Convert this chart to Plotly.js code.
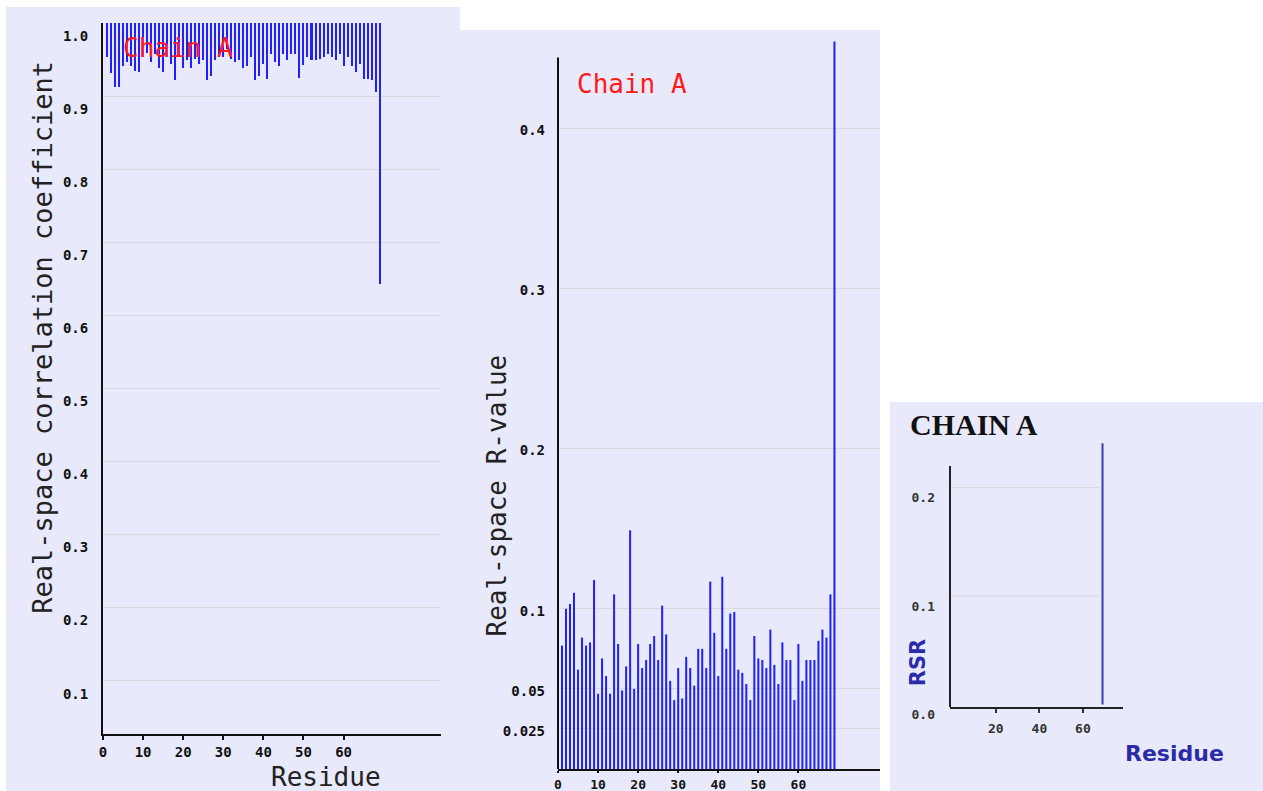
<!DOCTYPE html>
<html>
<head>
<meta charset="utf-8">
<script src="https://cdn.plot.ly/plotly-3.0.1.min.js"></script>
<style>
  html, body { margin:0; padding:0; background:#ffffff; width:1263px; height:791px; overflow:hidden; }
  .panel { position:absolute; }
</style>
</head>
<body>
<div id="p1" class="panel" style="left:6px;top:7px;width:454px;height:784px;"></div>
<div id="p2" class="panel" style="left:460px;top:30px;width:420px;height:761px;"></div>
<div id="p3" class="panel" style="left:890px;top:402px;width:373px;height:389px;"></div>
<script>
// ---------- DATA ----------
const residues = Array.from({length: 69}, (_, i) => i + 1);

// Real-space correlation coefficient per residue (Chain A)
const rsccValues = [
  0.953, 0.931, 0.913, 0.913, 0.941, 0.947, 0.941, 0.935, 0.933, 0.953,
  0.959, 0.947, 0.958, 0.938, 0.933, 0.953, 0.944, 0.922, 0.953, 0.939,
  0.949, 0.939, 0.951, 0.944, 0.950, 0.922, 0.927, 0.949, 0.958, 0.953,
  0.964, 0.951, 0.947, 0.949, 0.939, 0.941, 0.953, 0.922, 0.927, 0.944,
  0.924, 0.958, 0.947, 0.941, 0.958, 0.949, 0.958, 0.958, 0.925, 0.942,
  0.953, 0.949, 0.950, 0.951, 0.953, 0.958, 0.953, 0.950, 0.958, 0.941,
  0.953, 0.941, 0.933, 0.944, 0.924, 0.924, 0.922, 0.906, 0.643
];

// Real-space R-value per residue (Chain A)
const rsrValues = [
  0.077, 0.100, 0.103, 0.110, 0.062, 0.082, 0.077, 0.079, 0.118, 0.047,
  0.069, 0.058, 0.047, 0.109, 0.078, 0.049, 0.064, 0.149, 0.050, 0.078,
  0.063, 0.068, 0.078, 0.083, 0.068, 0.102, 0.084, 0.055, 0.043, 0.063,
  0.044, 0.070, 0.063, 0.052, 0.075, 0.075, 0.063, 0.117, 0.085, 0.058,
  0.120, 0.075, 0.097, 0.098, 0.062, 0.060, 0.053, 0.043, 0.083, 0.069,
  0.068, 0.063, 0.087, 0.065, 0.053, 0.079, 0.068, 0.068, 0.043, 0.078,
  0.055, 0.068, 0.068, 0.068, 0.080, 0.087, 0.082, 0.109, 0.454
];

// RSR thumbnail (Chain A): only the outlier bar is drawn
const rsrThumbResidues = [69];
const rsrThumbValues = [0.241];

const xTicks1 = [0, 10, 20, 30, 40, 50, 60];
const yTicks1 = [0.1, 0.2, 0.3, 0.4, 0.5, 0.6, 0.7, 0.8, 0.9, 1.0];
const yTickText1 = ['0.1','0.2','0.3','0.4','0.5','0.6','0.7','0.8','0.9','1.0'];
const xTicks2 = [0, 10, 20, 30, 40, 50, 60];
const yTicks2 = [0.025, 0.05, 0.1, 0.2, 0.3, 0.4];
const yTickText2 = ['0.025', '0.05', '0.1', '0.2', '0.3', '0.4'];
const xTicks3 = [20, 40, 60];
const yTicks3 = [0, 0.1, 0.2];
const yTickText3 = ['0.0', '0.1', '0.2'];

// ---------- STYLE ----------
const BG = '#e8e9fa';
const GRID = '#d9d9d9';
const MONO = 'DejaVu Sans Mono, monospace';
const tickFont = {family: MONO, size: 14, color: '#111', weight: 'bold'};
const tickFont2x = {family: MONO, size: 13, color: '#111', weight: 'bold'};
const tickFont3 = {family: MONO, size: 13, color: '#333', weight: 'bold'};
const cfg = {staticPlot: true, displayModeBar: false};

function ann(m, W, H, px, py, text, font, angle) {
  const w = W - m.l - m.r, h = H - m.t - m.b;
  return {xref: 'paper', yref: 'paper', x: (px - m.l) / w, y: 1 - (py - m.t) / h,
    text: text, showarrow: false, xanchor: 'center', yanchor: 'middle',
    textangle: angle || 0, font: font};
}

// ---------- PANEL 1 ----------
(function () {
  const W = 454, H = 784;
  const m = {l: 97.3, r: 19.3, t: 15.7, b: 57};
  const trace = {
    type: 'bar', x: residues, y: rsccValues.map(v => v - 1), base: 1,
    width: 0.5, marker: {color: '#2020ff', line: {width: 0}}, hoverinfo: 'skip'
  };
  const layout = {
    width: W, height: H, margin: m, paper_bgcolor: BG, plot_bgcolor: BG,
    showlegend: false, bargap: 0,
    xaxis: {range: [0, 84.3], tickvals: xTicks1, ticktext: xTicks1.map(String),
      ticks: 'outside', ticklen: 4, tickwidth: 2, tickcolor: '#111',
      showline: true, linecolor: '#111', linewidth: 2, showgrid: false, zeroline: false,
      tickfont: tickFont, fixedrange: true},
    yaxis: {range: [0.027, 1.0], tickvals: yTicks1, ticktext: yTickText1,
      ticks: '', showline: true, linecolor: '#111', linewidth: 2,
      showgrid: true, gridcolor: GRID, gridwidth: 1, zeroline: false,
      tickfont: tickFont, ticklabelstandoff: 10, ticklabelshift: 13, fixedrange: true},
    annotations: [
      ann(m, W, H, 37, 330, 'Real-space correlation coefficient', {family: MONO, size: 27, color: '#222'}, -90),
      ann(m, W, H, 320, 770, 'Residue', {family: MONO, size: 26, color: '#222'}),
      ann(m, W, H, 172, 41, 'Chain A', {family: MONO, size: 26, color: '#ff1a1a'})
    ]
  };
  Plotly.newPlot('p1', [trace], layout, cfg);
})();

// ---------- PANEL 2 ----------
(function () {
  const W = 420, H = 761;
  const m = {l: 97.7, r: 0, t: 9.6, b: 22};
  const trace = {
    type: 'bar', x: residues, y: rsrValues, width: 0.5,
    marker: {color: '#2020ff', line: {width: 0}}, hoverinfo: 'skip'
  };
  const layout = {
    width: W, height: H, margin: m, paper_bgcolor: BG, plot_bgcolor: BG,
    showlegend: false,
    xaxis: {range: [0, 80.37], tickvals: xTicks2, ticktext: xTicks2.map(String),
      ticks: 'outside', ticklen: 2, tickwidth: 2, tickcolor: '#111',
      showline: true, linecolor: '#111', linewidth: 2, showgrid: false, zeroline: false,
      tickfont: tickFont2x, ticklabelstandoff: 0, fixedrange: true},
    yaxis: {range: [0, 0.455], tickvals: yTicks2, ticktext: yTickText2,
      ticks: '', showline: false, showgrid: true, gridcolor: GRID, gridwidth: 1,
      zeroline: false, tickfont: tickFont, ticklabelstandoff: 12, ticklabelshift: 2,
      fixedrange: true},
    shapes: [
      {type: 'line', xref: 'paper', yref: 'y', x0: 0, x1: 0, y0: 0, y1: 0.444,
       line: {color: '#111', width: 2}}
    ],
    annotations: [
      ann(m, W, H, 37, 465, 'Real-space R-value', {family: MONO, size: 26, color: '#222'}, -90),
      ann(m, W, H, 172, 54, 'Chain A', {family: MONO, size: 26, color: '#ff1a1a'})
    ]
  };
  Plotly.newPlot('p2', [trace], layout, cfg);
})();

// ---------- PANEL 3 ----------
(function () {
  const W = 373, H = 389;
  const m = {l: 60, r: 139.7, t: 39.1, b: 84.3};
  const trace = {
    type: 'bar', x: rsrThumbResidues, y: rsrThumbValues, width: 0.9,
    marker: {color: '#3a3aa8', line: {width: 0}}, hoverinfo: 'skip'
  };
  const gridShapes = [0.1, 0.2].map(v => ({type: 'line', xref: 'x', yref: 'y',
    x0: -1.05, x1: 67.7, y0: v, y1: v, line: {color: GRID, width: 1}, layer: 'below'}));
  const layout = {
    width: W, height: H, margin: m, paper_bgcolor: BG, plot_bgcolor: BG,
    showlegend: false,
    xaxis: {range: [-1.05, 78.4], tickvals: xTicks3, ticktext: xTicks3.map(String),
      ticks: 'outside', ticklen: 4, tickwidth: 2, tickcolor: '#333',
      showline: true, linecolor: '#222', linewidth: 2, showgrid: false, zeroline: false,
      tickfont: tickFont3, ticklabelstandoff: 4, fixedrange: true},
    yaxis: {range: [-0.0022, 0.2430], tickvals: yTicks3, ticktext: yTickText3,
      ticks: '', showline: false, showgrid: false, zeroline: false,
      tickfont: tickFont3, ticklabelstandoff: 14, ticklabelshift: 10, fixedrange: true},
    shapes: gridShapes.concat([
      {type: 'line', xref: 'paper', yref: 'y', x0: 0, x1: 0, y0: -0.0022, y1: 0.220,
       line: {color: '#222', width: 2}}
    ]),
    annotations: [
      ann(m, W, H, 84.5, 23, 'CHAIN A', {family: 'Liberation Serif, serif', size: 30, color: '#111', weight: 'bold'}),
      ann(m, W, H, 28, 261, 'RSR', {family: 'DejaVu Sans, sans-serif', size: 21, color: '#2b2ba8', weight: 'bold'}, -90),
      ann(m, W, H, 285, 351, 'Residue', {family: 'DejaVu Sans, sans-serif', size: 22, color: '#2b2ba8', weight: 'bold'})
    ]
  };
  Plotly.newPlot('p3', [trace], layout, cfg);
})();
</script>
</body>
</html>
